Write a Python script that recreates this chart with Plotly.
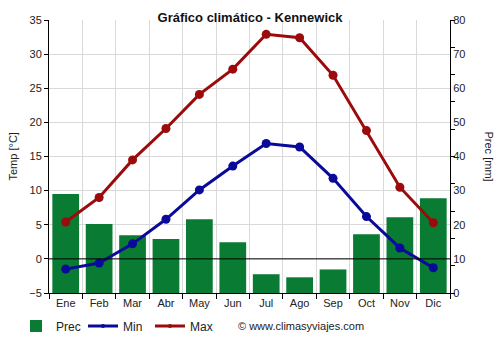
import plotly.graph_objects as go

# Monthly climate data for Kennewick
months = ["Ene", "Feb", "Mar", "Abr", "May", "Jun", "Jul", "Ago", "Sep", "Oct", "Nov", "Dic"]
prec = [29.0, 20.2, 16.9, 15.8, 21.6, 14.9, 5.5, 4.6, 6.9, 17.2, 22.2, 27.8]   # mm
tmin = [-1.5, -0.6, 2.2, 5.8, 10.1, 13.6, 16.9, 16.4, 11.8, 6.2, 1.6, -1.3]   # °C
tmax = [5.4, 9.0, 14.5, 19.1, 24.1, 27.8, 32.9, 32.4, 26.9, 18.8, 10.5, 5.3]  # °C

GREEN = "#097b32"
BLUE = "#0a0a9a"
RED = "#9b0b0b"
GRID = "#d9d9d9"
FONT = "Liberation Sans, Arial, sans-serif"

W, H = 500, 350
L, R, T, B = 49, 50, 20, 57
PW, PH = W - L - R, H - T - B


def px_x(x):
    """pixel column -> paper x"""
    return (x - L) / PW


def px_y(y):
    """pixel row -> paper y"""
    return (H - B - y) / PH


fig = go.Figure()

fig.add_trace(go.Bar(
    x=months, y=prec, name="Prec", yaxis="y",
    marker=dict(color=GREEN, line=dict(width=0)),
    hoverinfo="skip",
))
fig.add_trace(go.Scatter(
    x=months, y=tmin, name="Min", yaxis="y2", mode="lines+markers",
    line=dict(color=BLUE, width=3), marker=dict(color=BLUE, size=9),
    showlegend=False,
))
fig.add_trace(go.Scatter(
    x=months, y=tmax, name="Max", yaxis="y2", mode="lines+markers",
    line=dict(color=RED, width=3), marker=dict(color=RED, size=9),
    showlegend=False,
))
# legend entries with a smaller marker symbol
for name, col in (("Min", BLUE), ("Max", RED)):
    fig.add_trace(go.Scatter(
        x=[None], y=[None], name=name, yaxis="y2", mode="lines+markers",
        line=dict(color=col, width=3), marker=dict(color=col, size=4),
        hoverinfo="skip",
    ))
# empty trace so the secondary tick axis gets drawn
fig.add_trace(go.Scatter(x=[], y=[], yaxis="y3", showlegend=False, hoverinfo="skip"))

fig.update_layout(
    width=W, height=H,
    margin=dict(l=L, r=R, t=T, b=B, autoexpand=False),
    paper_bgcolor="white", plot_bgcolor="white",
    font=dict(family=FONT, size=11, color="#222"),
    bargap=0.2,
    title=dict(
        text="<b>Gráfico climático - Kennewick</b>",
        x=0.5, xref="container", xanchor="center",
        y=1 - 17 / H, yref="container", yanchor="middle",
        font=dict(size=13, color="#111"),
    ),
    xaxis=dict(
        type="category", tickson="boundaries", range=[-0.5, 11.5],
        showgrid=True, gridcolor=GRID, gridwidth=1,
        ticks="outside", ticklen=5, tickcolor="black",
        showline=True, linecolor="black", linewidth=1,
        tickfont=dict(size=11), fixedrange=True,
    ),
    yaxis=dict(
        side="right", range=[0, 80], dtick=10,
        showgrid=True, gridcolor=GRID, gridwidth=1,
        ticks="", showline=True, linecolor="black", linewidth=1,
        zeroline=False, tickfont=dict(size=11),
    ),
    yaxis2=dict(
        overlaying="y", side="left", range=[-5, 35], dtick=5,
        showgrid=False, zeroline=False,
        ticks="outside", ticklen=4, tickcolor="black",
        showline=True, linecolor="black", linewidth=1,
        tickfont=dict(size=11),
    ),
    yaxis3=dict(
        overlaying="y", side="right", range=[0, 80], dtick=8,
        showgrid=False, zeroline=False, showline=False,
        ticks="outside", ticklen=4, tickcolor="black",
        showticklabels=False,
    ),
    legend=dict(
        orientation="h",
        xref="container", x=0.032, xanchor="left",
        yref="container", y=1 - 326 / H, yanchor="middle",
        font=dict(size=12, color="#222"),
        itemwidth=30, tracegroupgap=0,
        entrywidth=22, entrywidthmode="pixels",
        bgcolor="rgba(0,0,0,0)",
    ),
    shapes=[dict(
        type="line", xref="x domain", x0=0, x1=1,
        yref="y2", y0=0, y1=0,
        line=dict(color="black", width=1), layer="above",
    )],
    annotations=[
        dict(text="Temp [°C]", textangle=-90, showarrow=False,
             xref="paper", x=px_x(12), xanchor="center",
             yref="paper", y=0.5, yanchor="middle",
             font=dict(size=11, color="#222")),
        dict(text="Prec [mm]", textangle=90, showarrow=False,
             xref="paper", x=px_x(489), xanchor="center",
             yref="paper", y=0.5, yanchor="middle",
             font=dict(size=11, color="#222")),
        dict(text="© www.climasyviajes.com", showarrow=False,
             xref="paper", x=px_x(236), xanchor="left",
             yref="paper", y=px_y(326), yanchor="middle",
             font=dict(size=11, color="#222")),
    ],
)

fig.write_html("out.html")
